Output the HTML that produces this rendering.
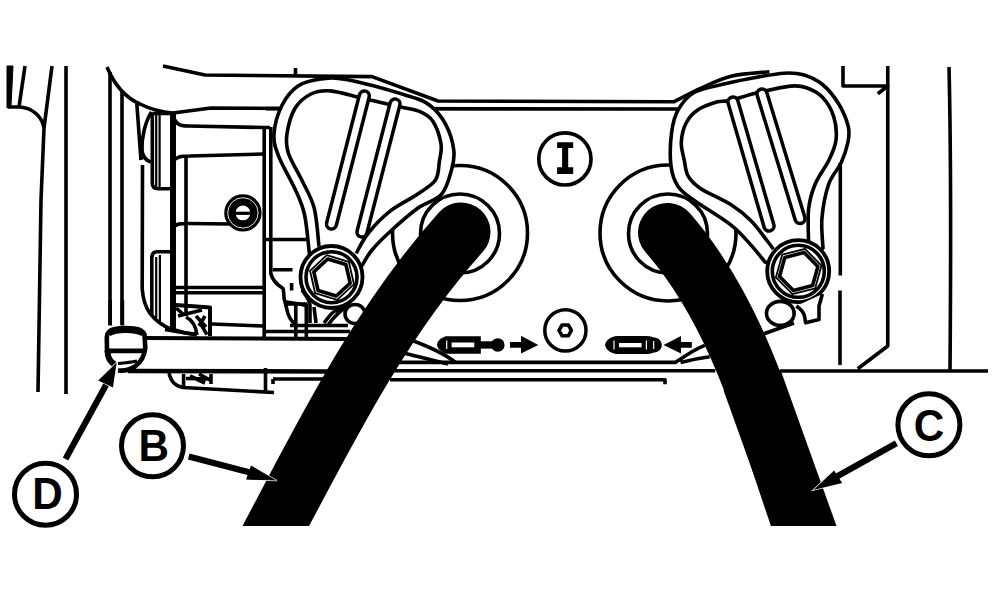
<!DOCTYPE html>
<html><head><meta charset="utf-8">
<style>
html,body{margin:0;padding:0;background:#fff;width:992px;height:592px;overflow:hidden}
svg{display:block}
text{font-family:"Liberation Sans",sans-serif;font-weight:bold}
</style></head>
<body>
<svg width="992" height="592" viewBox="0 0 992 592">
<defs>
<clipPath id="cl"><rect x="0" y="0" width="992" height="526"/></clipPath>
</defs>
<rect width="992" height="592" fill="#fff"/>
<g fill="none" stroke="#000" stroke-width="3.6" stroke-linejoin="round">

<!-- far left -->
<path d="M7,66 L13,66 L11,106 L7,108 Z" fill="#000" stroke-width="1"/>
<path d="M8,107 L20,107 C32,108 42,116 44,128"/>
<path d="M25,66 L19,107"/>
<path d="M52,66 L44,128 L41,200 L38,392"/>
<path d="M66,66 L66,394"/>

<!-- housing left -->
<path d="M107,67 C114,84 124,97 140,104 C150,109 160,112 173,113 L211,108 L283,108.5"/>
<path d="M163,66 L205,75 L372,76.6 L438,101 L674,101.8  C678.4,99.6 691.0,92.7 700.5,88.4 C710.0,84.1 719.5,79.0 731.0,76.2 C742.5,73.4 763.0,72.5 769.4,71.8"/>
<path d="M266,108.6 L683,109"/>
<path d="M295.5,68 L295.5,76"/>
<path d="M110,72 L110,325"/>
<path d="M122,92 L122,325"/>
<path d="M136.8,103.5 L141,160 M151.5,112 C145,122 141.5,138 142,150 C142.5,157 146,160.5 151,162"/>
<path d="M142.5,165 L142.2,288.7 C143,300 146,308 150,313.3 C156,321 163,326 171,329 C180,332 188,333.5 196,334.4"/>
<path d="M152.3,113 L152.3,183 C152.3,187 154,188.7 158,188.7 L172,188.7 M152.3,113.5 L172,113.5"/>
<path d="M156.2,115 L156.2,187 M159.6,115 L159.6,187" stroke-width="2.2"/>
<path d="M173,116 C176,124 179,126 188,126 L264,127.5 L270,127.5"/>
<path d="M173,161 C177,157 180,156 190,156 L264,154"/>
<path d="M186,156 L186,316"/>
<path d="M264.2,127 L264.2,338"/>
<path d="M270.8,127 L270.8,273.5 C272,279 276,284 283,288.6 C284,292 284,296 284,298 L286.9,309.5 C288,316 290,320 295.4,324.6"/>
<path d="M266,239.5 L306.8,239.5"/>
<path d="M272.7,269.7 L292.5,269.7 M291.6,283 L291.6,290.5"/>
<path d="M286,302 C290,302.5 296,302.8 306.8,305.7"/>
<path d="M295.8,304 L295.8,338 M306.3,304 L306.3,338 M286.6,304 L307.6,304"/>
<path d="M175,226.5 C176,224 180,223.5 188,223.5 L230,224"/>
<path d="M171,251.8 L157,251.8 C153.5,251.8 151.8,254 151.8,258 L151.8,315"/>
<path d="M156.2,257 L156.2,318 M159.9,255 L159.9,324" stroke-width="2.2"/>
<path d="M173,113 L173,331" stroke-width="6"/>
<path d="M176,287.5 L263,287.5 M176,292.8 L263,292.8"/>
<path d="M212,324 L263,326"/>
<path d="M176,305 L210,307.5 L210,336" stroke-width="4"/>
<path d="M176,308 L183,314 M178,316 L202,310 M186,317 C192,320 196,326 197,335 M200.5,323.7 L207,334.7 M165,329.5 L197,335 M196,316 L206,327 M205,316 L199,326"/>
<path d="M266,331.5 L350,331.5"/>
<!-- bolt small -->
<circle cx="242.9" cy="212.9" r="18.7" fill="#000" stroke="none"/>
<circle cx="242.9" cy="212.9" r="15.2" fill="none" stroke="#fff" stroke-width="0.9"/>
<circle cx="242.9" cy="212.9" r="7.4" fill="#fff" stroke="none"/>
<rect x="235" y="211.7" width="16" height="3.2" fill="#000" stroke="none"/>

<!-- bottom bar -->
<path d="M144,338 L350,339" stroke-width="4"/>
<path d="M128,371 L332,371.5" stroke-width="4.4"/>
<path d="M390,362.4 L675.6,362.4 C685,356 695,349 704.8,345.4 M680.5,362.4 C690,360 700,358 709.7,356.7"/>
<path d="M408,339 C425,345 442,352 455,362 M402,352.5 C420,357 435,361 448,364"/>
<path d="M390,370.8 L715.3,370.8"/>
<path d="M390,379.7 L665,379.7 L665,384.3"/>
<path d="M780,371 L988,371"/>
<path d="M169,373 C171,382 175,386 183,387.5 L274,392.5 M183.6,374 L183.6,386 M211,374 L211,384 M186,378.5 L211,379 M190,376 L205,383 M199,374 L210,380"/>
<path d="M265.5,368 L265.5,392.5 M273,379 L325,379 M273,379 L273,384"/>
<path d="M290,325.5 L348,325.5"/>

<!-- knob D -->
<path d="M107,352 L106.8,337 C107,332 110,330 115,329 C121,328 128,328 134,328.5 C139,329 143,331 144.5,334.5 L145.3,348 C144.5,356 141,362 135,366.5 C130,370 124,371 118,370.5" stroke-width="4.6"/>
<path d="M109,333.5 C116,329.5 134,329 143,333.5" stroke-width="5.5"/>
<path d="M109,350.8 L144,350.8" stroke-width="4.8"/>
<path d="M107.5,351 C107.5,358 110,362 115.5,365" stroke-width="6"/>
<path d="M118,363.5 C124,363 130,362.5 137,361" stroke-width="3"/>
<path d="M110.2,325.5 L110.2,300 M122.4,325.5 L122.4,300"/>

<!-- flange L, ring L -->
<circle cx="460" cy="233" r="67.5"/>
<circle cx="460" cy="233.5" r="39.5"/>

<!-- handle L -->
<path fill="#fff" d="M309.3,253.0 C308.5,246.6 306.9,225.2 304.5,214.5 C302.1,203.8 299.2,198.4 294.9,188.8 C290.6,179.2 282.3,165.8 278.8,156.7 C275.3,147.6 273.5,142.8 274.0,134.2 C274.5,125.6 278.0,113.3 282.0,105.3 C286.0,97.3 291.6,90.4 298.0,86.0 C304.4,81.6 312.6,80.1 320.6,79.0 C328.7,77.9 331.9,76.8 346.3,79.6 C360.8,82.4 393.4,91.4 407.3,95.7 C421.2,100.0 423.3,100.5 429.7,105.3 C436.1,110.1 441.8,117.1 445.8,124.6 C449.8,132.1 452.9,142.7 453.8,150.3 C454.8,157.9 453.6,162.6 451.5,170.0 C449.4,177.4 447.1,188.1 441.4,194.5 C435.6,200.9 425.4,202.6 417.0,208.7 C408.6,214.8 398.2,224.1 390.7,231.0 C383.2,237.9 376.7,244.3 372.0,250.0 C367.3,255.7 363.9,262.5 362.3,265.0 L331,277 Z"/>
<path d="M319.0,246.6 C318.2,240.2 317.1,219.2 314.2,208.0 C311.2,196.8 305.6,188.2 301.3,179.1 C297.0,170.0 290.9,161.0 288.5,153.5 C286.1,146.0 285.8,141.7 286.9,134.2 C288.0,126.7 290.9,115.2 294.9,108.5 C298.9,101.8 305.1,96.9 311.0,94.0 C316.9,91.1 322.2,90.4 330.2,90.9 C338.2,91.5 352.0,95.7 359.0,97.3 C366.0,98.9 365.0,98.9 372.0,100.5 C379.0,102.1 392.8,105.1 400.8,107.0 C408.8,108.9 414.6,109.3 420.0,111.7 C425.4,114.1 429.5,116.1 433.0,121.4 C436.5,126.8 439.9,137.0 441.0,143.8 C442.1,150.6 440.2,155.9 439.3,162.0 C438.4,168.1 439.0,174.9 435.3,180.3 C431.6,185.7 424.4,189.4 417.0,194.5 C409.6,199.6 398.8,204.3 390.7,210.7 C382.6,217.1 374.1,225.9 368.4,233.0 C362.6,240.1 358.2,249.9 356.2,253.3"/>
<path d="M364.3,96 L331.5,224" stroke-width="13.5" stroke-linecap="round"/>
<path d="M364.3,96 L331.5,224" stroke="#fff" stroke-width="6.5" stroke-linecap="round"/>
<path d="M395,104 L362,232" stroke-width="13.5" stroke-linecap="round"/>
<path d="M395,104 L362,232" stroke="#fff" stroke-width="6.5" stroke-linecap="round"/>
<!-- bolt L -->
<circle cx="331.5" cy="277" r="31" fill="#fff" stroke-width="3.8"/>
<circle cx="331.5" cy="277.2" r="25.5" stroke-width="3.6"/>
<path d="M354.0,284.2 L337.2,299.9 L315.2,293.2 L310.0,270.8 L326.8,255.1 L348.8,261.8 Z" stroke-width="1.8"/>
<path d="M350.2,283.1 L336.3,296.0 L318.1,290.5 L313.8,271.9 L327.7,259.0 L345.9,264.5 Z" stroke-width="3.6"/>
<path d="M302,290 C306,296 310,300 310,305 L310,323 M314,307 L316,323"/>
<path d="M324,323 C328,318 331,313 335,311 L345.4,308 M328,325 C333,318 338,312 348,306"/>
<ellipse cx="355" cy="314" rx="10" ry="9.5" stroke-width="3.6"/>

<!-- I circle -->
<circle cx="564.9" cy="158.9" r="26.1" stroke-width="3.7"/>
<path d="M557.1,142.2 H573.2 V147.9 H568.2 V167.2 H573.2 V173.9 H557.1 V167.2 H562.1 V147.9 H557.1 Z" fill="#000" stroke="none"/>

<!-- small circle + hex -->
<circle cx="565.4" cy="330.4" r="20.6" stroke-width="3.5"/>
<path d="M571.4,330.4 L568.3,335.8 L562.1,335.8 L559.0,330.4 L562.1,325.0 L568.3,325.0 Z" stroke-width="3.6"/>

<!-- flange R, ring R -->
<circle cx="668" cy="233" r="68"/>
<circle cx="668" cy="233.5" r="39.5"/>

<!-- handle R -->
<path fill="#fff" d="M765.0,262.0 C762.7,259.2 756.7,251.3 751.0,245.1 C745.3,238.9 740.2,232.3 730.8,224.9 C721.3,217.5 703.1,206.9 694.3,200.5 C685.5,194.1 682.0,192.2 678.1,186.4 C674.2,180.7 672.1,175.0 671.0,166.0 C669.9,157.0 670.4,141.9 671.6,132.6 C672.8,123.3 674.2,116.9 678.0,110.2 C681.8,103.5 686.1,97.0 694.1,92.5 C702.1,88.0 715.5,86.1 726.2,83.5 C736.9,80.9 748.7,78.7 758.3,77.0 C767.9,75.3 776.5,73.6 784.0,73.2 C791.5,72.8 796.9,72.9 803.3,74.8 C809.7,76.7 816.6,79.7 822.5,84.5 C828.4,89.3 834.3,96.8 838.6,103.7 C842.9,110.7 846.6,119.8 848.2,126.2 C849.8,132.6 849.2,135.9 848.0,142.0 C846.8,148.1 844.2,156.0 841.0,163.0 C837.8,170.0 832.0,174.7 828.8,183.8 C825.6,192.9 823.0,206.8 822.0,217.5 C821.0,228.2 822.8,242.9 823.0,248.0 L798,272 Z"/>
<path d="M773.4,249.2 C772.4,247.8 771.0,245.7 767.3,241.0 C763.6,236.3 757.1,226.9 751.0,220.8 C744.9,214.7 739.2,210.0 730.8,204.6 C722.4,199.2 707.5,193.1 700.4,188.4 C693.3,183.7 690.9,180.9 688.2,176.2 C685.5,171.5 685.4,165.7 684.2,160.0 C683.1,154.3 681.0,148.5 681.3,142.3 C681.6,136.1 683.4,128.3 686.1,123.0 C688.8,117.7 692.2,113.7 697.3,110.2 C702.4,106.7 711.2,103.7 716.6,102.1 C722.0,100.5 722.5,102.1 729.4,100.5 C736.3,98.9 748.1,94.9 758.3,92.5 C768.5,90.1 782.4,86.9 790.4,86.1 C798.4,85.3 801.1,85.8 806.5,87.7 C811.9,89.6 818.0,92.5 822.5,97.3 C827.0,102.1 831.5,109.5 833.7,116.6 C836.0,123.7 836.8,132.8 836.0,140.0 C835.2,147.2 832.5,152.7 829.0,160.0 C825.5,167.3 818.7,175.6 815.3,183.8 C811.9,192.0 809.7,199.1 808.6,209.0 C807.5,218.9 808.6,237.3 808.6,243.0"/>
<path d="M733,102 L769,226" stroke-width="13.5" stroke-linecap="round"/>
<path d="M733,102 L769,226" stroke="#fff" stroke-width="6.5" stroke-linecap="round"/>
<path d="M762,94 L800,218.5" stroke-width="13.5" stroke-linecap="round"/>
<path d="M762,94 L800,218.5" stroke="#fff" stroke-width="6.5" stroke-linecap="round"/>
<!-- bolt R -->
<circle cx="798.2" cy="271.2" r="31" fill="#fff" stroke-width="3.8"/>
<circle cx="798.3" cy="271.3" r="26" stroke-width="3.6"/>
<path d="M815.2,288.3 L792.4,294.1 L775.9,277.4 L782.2,254.7 L805.0,248.9 L821.5,265.6 Z" stroke-width="1.8"/>
<path d="M812.6,285.6 L793.4,290.6 L779.5,276.5 L784.8,257.4 L804.0,252.4 L817.9,266.5 Z" stroke-width="3.6"/>
<ellipse cx="780.3" cy="313.4" rx="13.8" ry="12" stroke-width="3.6"/>
<path d="M796.3,305.9 C801,309 803.5,312 804.5,316 L805.6,322.8 L819,319.4 L819,306 L822.4,294" fill="#fff"/>
<path d="M762,334.5 L794,323"/>

<!-- far right -->
<path d="M843,66 L843,86 L887.75,86 L877.75,93.75"/>
<path d="M887.75,66 L887.75,346 L857.75,368.75"/>
<path d="M840.3,163 L840.3,275.5 M840,290.5 L840,365"/>
<path d="M949,67 C951,150 951,250 950,371"/>

</g>

<!-- hoses -->
<g clip-path="url(#cl)">
<path d="M461,232 C380.2,321.5 325.9,431.4 270,537" fill="none" stroke="#000" stroke-width="59" stroke-linecap="round"/>
<path d="M667.5,232.5 C742.4,318.2 768.8,433 806,537" fill="none" stroke="#000" stroke-width="59" stroke-linecap="round"/>
<path d="M752,380 L808.3,537" fill="none" stroke="#000" stroke-width="60.5"/>
</g>

<!-- symbols -->
<g fill="#000">
<path d="M437,344.5 C437,342 439,340 441,338.5 L445.5,336.2 L480.8,336.2 L480.8,353.8 L445.5,353.8 L441,351 C439,349.5 437,347 437,344.5 Z"/>
<rect x="451.6" y="342.5" width="22.7" height="4.8" fill="#fff"/>
<rect x="480" y="341.3" width="13" height="7.3"/>
<circle cx="497.8" cy="345" r="6.8"/>
<path d="M510,342 L521,342 L521,335.7 L538.3,345 L521,353.5 L521,347.8 L510,347.8 Z"/>
<path d="M605,345 C606,340 611,336.5 617,336 L647,336 C650,336 652,337 654,337.5 C659,338 661.8,341 661.8,345 C661.8,349 659,352 654,352.5 C652,353 650,354 647,354 L617,354 C611,353.5 606,350 605,345 Z"/>
<rect x="619" y="343" width="22.6" height="4.3" fill="#fff"/>
<path d="M691.8,342 L681,342 L681,336 L663.5,345 L681,353.5 L681,347.8 L691.8,347.8 Z"/>
<g stroke="#fff" stroke-width="1.2"><path d="M446.7,340.5 L446.7,349"/><path d="M614,340.5 L614,349.5"/><path d="M646.4,340.5 L646.4,349.5"/><path d="M653.7,341 L653.7,349"/></g>
</g>

<!-- labels -->
<g fill="none" stroke="#000" stroke-width="5">
<circle cx="45.5" cy="494.2" r="31"/>
<circle cx="152.5" cy="445.8" r="31"/>
<circle cx="928.9" cy="424.8" r="31"/>
</g>
<g fill="#000" stroke="#fff" stroke-width="1.4" stroke-linejoin="miter">
<path d="M116.7,362.5 L98.2,380.6 L112.9,387.6 Z"/>
<path d="M276.6,480.6 L251,465.6 L246,479.6 Z"/>
<path d="M813.4,490 L834.1,470.4 L842.2,483 Z"/>
</g>
<g stroke="#000" stroke-width="6.2" fill="none">
<path d="M65.5,459 L106,385"/>
<path d="M188.7,456.4 L252,473"/>
<path d="M896.4,443.3 L836,477"/>
</g>
<g fill="#000">
<path d="M116.7,362.5 L98.2,380.6 L112.9,387.6 Z"/>
<path d="M276.6,480.6 L251,465.6 L246,479.6 Z"/>
<path d="M813.4,490 L834.1,470.4 L842.2,483 Z"/>
</g>
<g font-size="44" text-anchor="middle" fill="#000">
<text x="47.4" y="509" transform="translate(47.4,0) scale(0.96,1) translate(-47.4,0)">D</text>
<text x="153.7" y="460.7" transform="translate(153.7,0) scale(0.96,1) translate(-153.7,0)">B</text>
<text x="928.9" y="440.8" transform="translate(928.6,0) scale(0.96,1) translate(-928.6,0)">C</text>
</g>
</svg>
</body></html>
